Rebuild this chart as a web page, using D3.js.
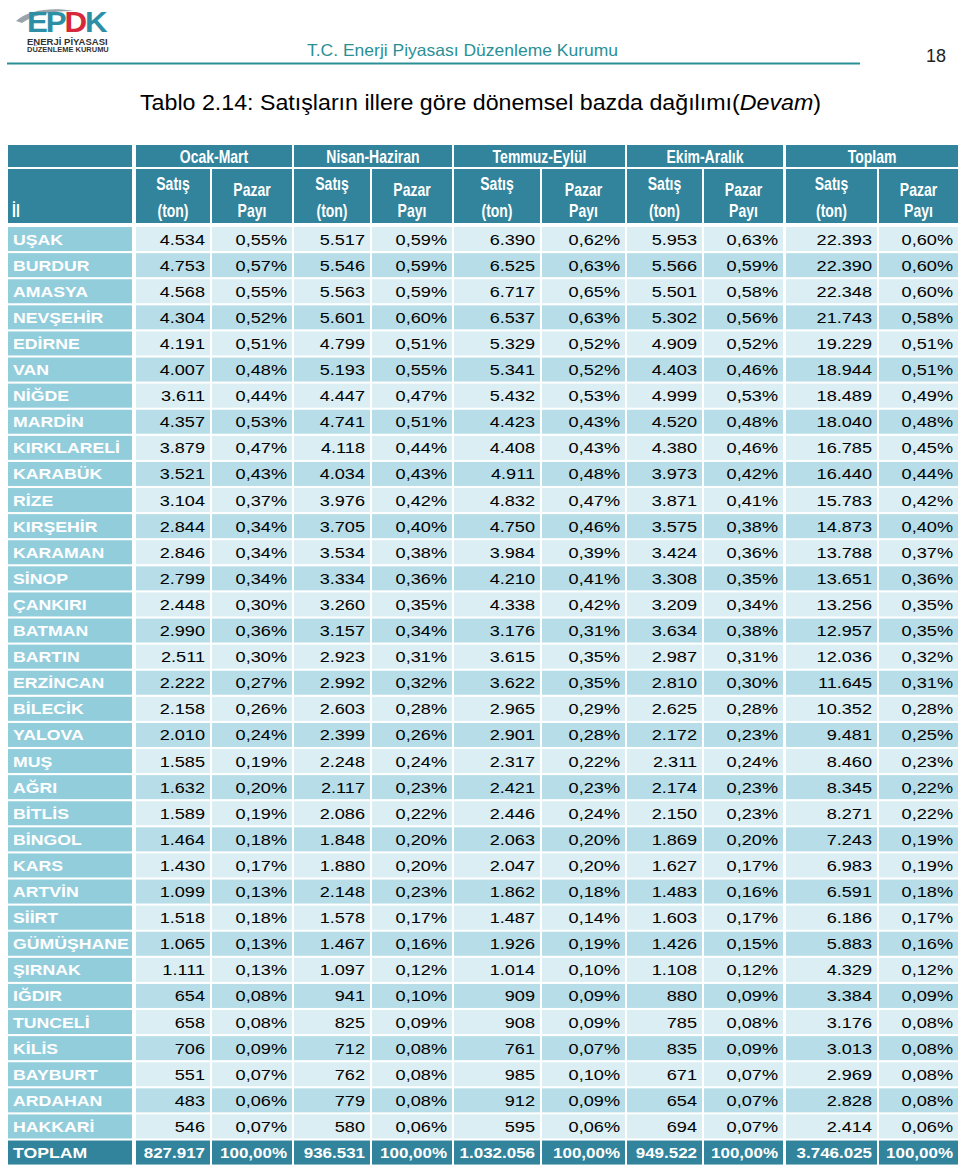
<!DOCTYPE html>
<html><head><meta charset="utf-8">
<script src="https://cdn.jsdelivr.net/npm/d3@7"></script>
<style>body{margin:0;background:#fff}svg{display:block;font-family:"Liberation Sans",Arial,sans-serif}</style>
</head><body>
<script>
const provinces = ["UŞAK","BURDUR","AMASYA","NEVŞEHİR","EDİRNE","VAN","NİĞDE","MARDİN","KIRKLARELİ","KARABÜK","RİZE","KIRŞEHİR","KARAMAN","SİNOP","ÇANKIRI","BATMAN","BARTIN","ERZİNCAN","BİLECİK","YALOVA","MUŞ","AĞRI","BİTLİS","BİNGOL","KARS","ARTVİN","SİİRT","GÜMÜŞHANE","ŞIRNAK","IĞDIR","TUNCELİ","KİLİS","BAYBURT","ARDAHAN","HAKKARİ"];
const q1Sales = [4534,4753,4568,4304,4191,4007,3611,4357,3879,3521,3104,2844,2846,2799,2448,2990,2511,2222,2158,2010,1585,1632,1589,1464,1430,1099,1518,1065,1111,654,658,706,551,483,546];
const q1Share = [0.55,0.57,0.55,0.52,0.51,0.48,0.44,0.53,0.47,0.43,0.37,0.34,0.34,0.34,0.30,0.36,0.30,0.27,0.26,0.24,0.19,0.20,0.19,0.18,0.17,0.13,0.18,0.13,0.13,0.08,0.08,0.09,0.07,0.06,0.07];
const q2Sales = [5517,5546,5563,5601,4799,5193,4447,4741,4118,4034,3976,3705,3534,3334,3260,3157,2923,2992,2603,2399,2248,2117,2086,1848,1880,2148,1578,1467,1097,941,825,712,762,779,580];
const q2Share = [0.59,0.59,0.59,0.60,0.51,0.55,0.47,0.51,0.44,0.43,0.42,0.40,0.38,0.36,0.35,0.34,0.31,0.32,0.28,0.26,0.24,0.23,0.22,0.20,0.20,0.23,0.17,0.16,0.12,0.10,0.09,0.08,0.08,0.08,0.06];
const q3Sales = [6390,6525,6717,6537,5329,5341,5432,4423,4408,4911,4832,4750,3984,4210,4338,3176,3615,3622,2965,2901,2317,2421,2446,2063,2047,1862,1487,1926,1014,909,908,761,985,912,595];
const q3Share = [0.62,0.63,0.65,0.63,0.52,0.52,0.53,0.43,0.43,0.48,0.47,0.46,0.39,0.41,0.42,0.31,0.35,0.35,0.29,0.28,0.22,0.23,0.24,0.20,0.20,0.18,0.14,0.19,0.10,0.09,0.09,0.07,0.10,0.09,0.06];
const q4Sales = [5953,5566,5501,5302,4909,4403,4999,4520,4380,3973,3871,3575,3424,3308,3209,3634,2987,2810,2625,2172,2311,2174,2150,1869,1627,1483,1603,1426,1108,880,785,835,671,654,694];
const q4Share = [0.63,0.59,0.58,0.56,0.52,0.46,0.53,0.48,0.46,0.42,0.41,0.38,0.36,0.35,0.34,0.38,0.31,0.30,0.28,0.23,0.24,0.23,0.23,0.20,0.17,0.16,0.17,0.15,0.12,0.09,0.08,0.09,0.07,0.07,0.07];
const totSales = [22393,22390,22348,21743,19229,18944,18489,18040,16785,16440,15783,14873,13788,13651,13256,12957,12036,11645,10352,9481,8460,8345,8271,7243,6983,6591,6186,5883,4329,3384,3176,3013,2969,2828,2414];
const totShare = [0.60,0.60,0.60,0.58,0.51,0.51,0.49,0.48,0.45,0.44,0.42,0.40,0.37,0.36,0.35,0.35,0.32,0.31,0.28,0.25,0.23,0.22,0.22,0.19,0.19,0.18,0.17,0.16,0.12,0.09,0.08,0.08,0.08,0.08,0.06];
const totalLabel = "TOPLAM";
const totalSales = [827917,936531,1032056,949522,3746025];
const totalShare = [100,100,100,100,100];
const periods = ["Ocak-Mart","Nisan-Haziran","Temmuz-Eylül","Ekim-Aralık","Toplam"];
const subHeads = [["Satış","(ton)"],["Pazar","Payı"]];
const title = "Tablo 2.14: Satışların illere göre dönemsel bazda dağılımı(";
const titleItalic = "Devam";
const orgName = "T.C. Enerji Piyasası Düzenleme Kurumu";
const pageNo = "18";
const logoLetters = [["E","#2d8fa6"],["P","#2d8fa6"],["D","#d6283a"],["K","#2d8fa6"]];
const logoLines = ["ENERJİ PİYASASI","DÜZENLEME KURUMU"];

const W = 960, H = 1171;
const C = {head:"#31849b", name:"#92cddc", light:"#daeef3", dark:"#b7dee8", teal:"#2a9096"};
const loc = d3.formatLocale({decimal:",", thousands:".", grouping:[3], currency:["",""]});
const fInt = loc.format(",d"), fPct = v => loc.format(",.2f")(v) + "%";

const svg = d3.select("body").append("svg").attr("width",W).attr("height",H);

function txt(g, x, y, s, o) {
  o = o || {};
  return g.append("text")
    .attr("transform", `translate(${x},${y}) scale(${o.sx||1},1)`)
    .attr("text-anchor", o.anchor || "start")
    .attr("font-size", o.size || 14)
    .attr("font-weight", o.weight || "normal")
    .attr("fill", o.fill || "#000")
    .text(s);
}

// ---------- page header ----------
const logo = svg.append("g");
logo.append("path").attr("d","M16,21 C28,10 52,7 74,11 C54,11 34,14 22,23 Z").attr("fill","#9aa3aa");
const lt = logo.append("text").attr("transform","translate(27,32) scale(1.08,1)").attr("font-size",29).attr("font-weight","bold").attr("letter-spacing",-2);
logoLetters.forEach(([c,f]) => lt.append("tspan").attr("fill",f).text(c));
txt(logo, 27, 45, logoLines[0], {size:9, weight:"bold", fill:"#333", sx:1.06});
txt(logo, 27, 52, logoLines[1], {size:6.5, weight:"bold", fill:"#333", sx:1.15});

txt(svg, 307, 56, orgName, {size:16.5, fill:C.teal, sx:1.06});
svg.append("line").attr("x1",7).attr("x2",860).attr("y1",63.5).attr("y2",63.5).attr("stroke",C.teal).attr("stroke-width",2);
txt(svg, 946, 62, pageNo, {size:18, anchor:"end", fill:"#222"});

const t = svg.append("text").attr("transform","translate(140,110) scale(1.08,1)").attr("font-size",21.5).attr("fill","#000");
t.append("tspan").text(title);
t.append("tspan").attr("font-style","italic").text(titleItalic);
t.append("tspan").text(")");

// ---------- table layout ----------
const colEdges = [[8,132],[136,210],[212,292],[294,370],[372,452],[454,540],[542,625],[627,702],[704,783],[786,877],[879,958]];
const rowsAll = provinces.concat([totalLabel]);
const y = d3.scaleBand().domain(d3.range(rowsAll.length)).range([226, 226 + rowsAll.length*26.1]).paddingInner(0.08).paddingOuter(0.04);

const hdr = svg.append("g");
const gTop = 145, gBot = 167, sTop = 169, sBot = 223;
const hOpt = {size:17.5, weight:"bold", fill:"#fff", sx:0.8, anchor:"middle"};
hdr.append("rect").attr("x",colEdges[0][0]).attr("y",gTop).attr("width",colEdges[0][1]-colEdges[0][0]).attr("height",gBot-gTop).attr("fill",C.head);
hdr.append("rect").attr("x",colEdges[0][0]).attr("y",sTop).attr("width",colEdges[0][1]-colEdges[0][0]).attr("height",sBot-sTop).attr("fill",C.head);
txt(hdr, 12, 217, "İl", Object.assign({}, hOpt, {anchor:"start"}));
periods.forEach((p,i) => {
  const a = colEdges[1+2*i], b = colEdges[2+2*i];
  hdr.append("rect").attr("x",a[0]).attr("y",gTop).attr("width",b[1]-a[0]).attr("height",gBot-gTop).attr("fill",C.head);
  txt(hdr, (a[0]+b[1])/2, 163, p, hOpt);
  [a,b].forEach((c,k) => {
    hdr.append("rect").attr("x",c[0]).attr("y",sTop).attr("width",c[1]-c[0]).attr("height",sBot-sTop).attr("fill",C.head);
    const cx = (c[0]+c[1])/2;
    txt(hdr, cx, k===0 ? 190 : 196, subHeads[k][0], hOpt);
    txt(hdr, cx, 217, subHeads[k][1], hOpt);
  });
});

// ---------- body ----------
const salesCols = [q1Sales,q2Sales,q3Sales,q4Sales,totSales];
const shareCols = [q1Share,q2Share,q3Share,q4Share,totShare];
const body = svg.append("g");
rowsAll.forEach((name,r) => {
  const isTot = r === provinces.length;
  const y0 = y(r), h = y.bandwidth();
  const fillBody = isTot ? C.head : (r%2===0 ? C.light : C.dark);
  body.append("rect").attr("x",colEdges[0][0]).attr("y",y0).attr("width",colEdges[0][1]-colEdges[0][0]).attr("height",h).attr("fill",isTot?C.head:C.name);
  txt(body, 13, y0+h/2+5.5, name, {size:14.5, weight:"bold", fill:"#fff", sx:1.22});
  for (let p=0;p<5;p++) {
    const sv = isTot ? totalSales[p] : salesCols[p][r];
    const pv = isTot ? totalShare[p] : shareCols[p][r];
    [[colEdges[1+2*p], fInt(sv)],[colEdges[2+2*p], fPct(pv)]].forEach(([c,s]) => {
      body.append("rect").attr("x",c[0]).attr("y",y0).attr("width",c[1]-c[0]).attr("height",h).attr("fill",fillBody);
      txt(body, c[1]-5, y0+h/2+5.5, s, {size:14.5, anchor:"end", fill:isTot?"#fff":"#000", weight:isTot?"bold":"normal", sx:isTot?1.17:1.25});
    });
  }
});
</script>
</body></html>
